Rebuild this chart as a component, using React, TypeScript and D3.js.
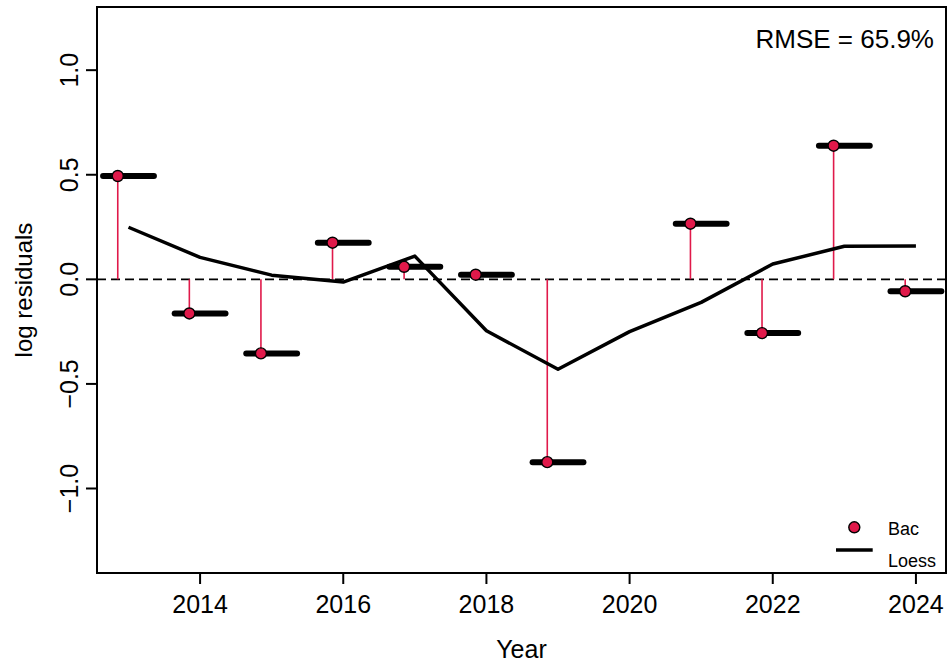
import React from "react";
import * as d3 from "d3";

const years = [2013, 2014, 2015, 2016, 2017, 2018, 2019, 2021, 2022, 2023, 2024];
const residuals = [0.494, -0.163, -0.354, 0.175, 0.06, 0.022, -0.874, 0.266, -0.257, 0.639, -0.057];
const loessYears = [2013, 2014, 2015, 2016, 2017, 2018, 2019, 2020, 2021, 2022, 2023, 2024];
const loessValues = [0.249, 0.105, 0.02, -0.013, 0.111, -0.246, -0.43, -0.25, -0.11, 0.073, 0.158, 0.159];
const xTicks = [2014, 2016, 2018, 2020, 2022, 2024];
const yTicks = [-1.0, -0.5, 0.0, 0.5, 1.0];
const rmseLabel = "RMSE = 65.9%";
const seriesName = "Bac";
const loessName = "Loess";

const W = 948;
const H = 664;
const L = 97, R = 946, T = 7, B = 573;
const FONT = "'Liberation Sans', Arial, sans-serif";
const RED = "#E0194A";

export default function App() {
  const x = d3.scaleLinear().domain([2012.56, 2024.42]).range([L, R]);
  const y = d3.scaleLinear().domain([-1.404, 1.302]).range([B, T]);
  const pointOffset = -0.15;
  const halfBar = 0.355;

  const loessLine = d3
    .line<number>()
    .x((_, i) => x(loessYears[i]))
    .y((d) => y(d))(loessValues) as string;

  return (
    <svg width={W} height={H} style={{ position: "absolute", left: 0, top: 0, background: "#fff" }} fontFamily={FONT}>
      <rect x={0} y={0} width={W} height={H} fill="#fff" />
      <line x1={L} x2={R} y1={y(0)} y2={y(0)} stroke="#000" strokeWidth={1.6} strokeDasharray="9,5" />
      {years.map((yr, i) => (
        <line key={"s" + yr} x1={x(yr + pointOffset)} x2={x(yr + pointOffset)} y1={y(0)} y2={y(residuals[i])} stroke={RED} strokeWidth={1.6} />
      ))}
      {years.map((yr, i) => (
        <line key={"b" + yr} x1={x(yr - halfBar)} x2={x(yr + halfBar)} y1={y(residuals[i])} y2={y(residuals[i])} stroke="#000" strokeWidth={6} strokeLinecap="round" />
      ))}
      <path d={loessLine} fill="none" stroke="#000" strokeWidth={3.5} strokeLinejoin="round" />
      {years.map((yr, i) => (
        <circle key={"p" + yr} cx={x(yr + pointOffset)} cy={y(residuals[i])} r={5.5} fill={RED} stroke="#000" strokeWidth={1.4} />
      ))}
      <rect x={L} y={T} width={R - L} height={B - T} fill="none" stroke="#000" strokeWidth={2} />
      {xTicks.map((t) => (
        <g key={"xt" + t}>
          <line x1={x(t)} x2={x(t)} y1={B} y2={B + 11} stroke="#000" strokeWidth={2} />
          <text x={x(t)} y={613} textAnchor="middle" fontSize={25} fill="#000">{t}</text>
        </g>
      ))}
      {yTicks.map((t) => (
        <g key={"yt" + t}>
          <line x1={L - 11} x2={L} y1={y(t)} y2={y(t)} stroke="#000" strokeWidth={2} />
          <text transform={`translate(78,${y(t)}) rotate(-90)`} textAnchor="middle" fontSize={25} fill="#000">{d3.format(".1f")(t)}</text>
        </g>
      ))}
      <text x={(L + R) / 2} y={658} textAnchor="middle" fontSize={25} fill="#000">Year</text>
      <text transform={`translate(32,${(T + B) / 2}) rotate(-90)`} textAnchor="middle" fontSize={24} fill="#000">log residuals</text>
      <text x={934} y={48} textAnchor="end" fontSize={26} fill="#000">{rmseLabel}</text>
      <circle cx={854.3} cy={527.3} r={5.5} fill={RED} stroke="#000" strokeWidth={1.4} />
      <line x1={836} x2={872.7} y1={550} y2={550} stroke="#000" strokeWidth={3.5} />
      <text x={888} y={535} fontSize={18} fill="#000">{seriesName}</text>
      <text x={888} y={566.5} fontSize={18} fill="#000">{loessName}</text>
    </svg>
  );
}
